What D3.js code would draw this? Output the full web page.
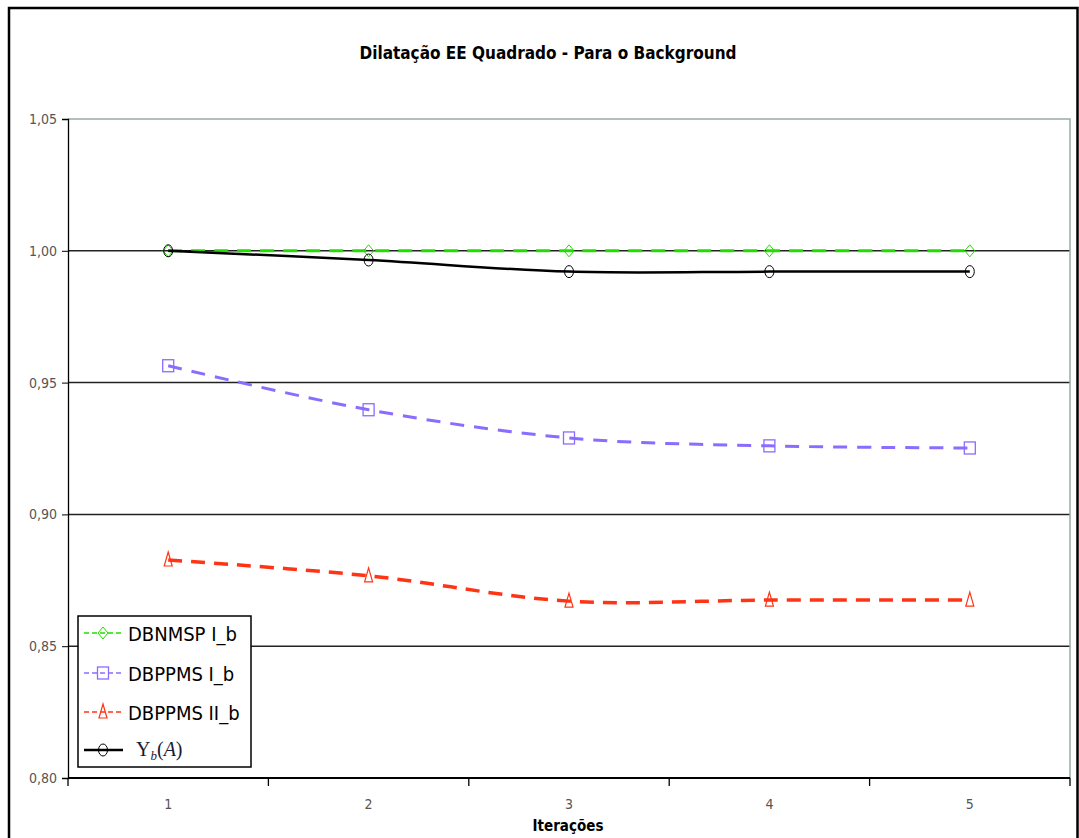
<!DOCTYPE html>
<html><head><meta charset="utf-8">
<script src="https://cdn.jsdelivr.net/npm/d3@7"></script>
<style>
html,body{margin:0;padding:0;background:#fff;}
svg{display:block;}
.narrow{font-family:"Liberation Sans Narrow","DejaVu Sans Condensed","Arial Narrow",sans-serif;font-stretch:condensed;}
</style></head>
<body>
<svg id="chart" width="1079" height="838"></svg>
<script>
const categories = ["1","2","3","4","5"];
const seriesNames = ["DBNMSP I_b","DBPPMS I_b","DBPPMS II_b","Υb(A)"];
const dbnmspIb   = [1.000, 1.000, 1.000, 1.000, 1.000];
const dbppmsIb   = [0.9564, 0.9397, 0.929, 0.926, 0.9252];
const dbppmsIIb  = [0.8827, 0.8767, 0.8671, 0.8675, 0.8675];
const upsilonB   = [1.000, 0.9965, 0.9921, 0.9921, 0.9921];
const yTicks = [0.80, 0.85, 0.90, 0.95, 1.00, 1.05];
const titleText = "Dilatação EE Quadrado - Para o Background";
const xTitle = "Iterações";

const svg = d3.select("#chart");
const L = 68, R = 1070, T = 119, B = 778;

// outer frame
svg.append("path").attr("d", `M9,840 V8 H1077.5 V840`).attr("fill","none").attr("stroke","#000").attr("stroke-width",2.5);

const x = d3.scaleBand().domain(categories).range([L, R]).padding(0);
const y = d3.scaleLinear().domain([0.80, 1.05]).range([B, T]);
const cx = c => x(c) + x.bandwidth()/2;

// title
svg.append("text").attr("class","narrow").attr("x", 548).attr("y", 59).attr("text-anchor","middle")
  .attr("font-size", 17).attr("font-weight","bold").attr("fill","#000").text(titleText);

// gridlines
const g = svg.append("g");
g.selectAll("line.grid").data(yTicks.filter(v => v > 0.801 && v < 1.049)).enter().append("line")
  .attr("x1", L).attr("x2", R).attr("y1", d => y(d)).attr("y2", d => y(d))
  .attr("stroke", "#222").attr("stroke-width", 1.5);
// top and right plot border
svg.append("path").attr("d", `M${L},${y(1.05)} H${R} V${B}`).attr("fill","none").attr("stroke","#9aaaa8").attr("stroke-width",1.5);

// y axis
const yAxis = d3.axisLeft(y).tickValues(yTicks).tickSize(6).tickPadding(5)
  .tickFormat(d => d3.format(".2f")(d).replace(".", ","));
const ya = svg.append("g").attr("transform", `translate(${L},0)`).call(yAxis);
ya.select(".domain").attr("stroke","#000").attr("stroke-width",1.3);
ya.selectAll(".tick line").attr("stroke","#000");
ya.selectAll("text").attr("class","narrow").attr("font-size",14).attr("fill","#555");

// x axis
const xa = svg.append("g").attr("transform", `translate(0,${B})`);
xa.append("line").attr("x1", L).attr("x2", R).attr("stroke","#000").attr("stroke-width",2);
const edges = categories.map(c => x(c)).concat([x(categories[categories.length-1]) + x.bandwidth()]);
xa.selectAll("line.tk").data(edges).enter().append("line")
  .attr("x1", d => d).attr("x2", d => d).attr("y1", 0).attr("y2", 8).attr("stroke","#000").attr("stroke-width",1.3);
xa.selectAll("text.tl").data(categories).enter().append("text").attr("class","narrow")
  .attr("x", d => cx(d)).attr("y", 31).attr("text-anchor","middle").attr("font-size",14).attr("fill","#555").text(d => d);
svg.append("text").attr("class","narrow").attr("x", 568).attr("y", 831).attr("text-anchor","middle")
  .attr("font-size",15).attr("font-weight","bold").attr("fill","#000").text(xTitle);

const series = [
  {name: seriesNames[0], values: dbnmspIb, color:"#22dd00", dash:"14,9", width:3, marker:"diamond"},
  {name: seriesNames[1], values: dbppmsIb, color:"#8a6cff", dash:"14,10", width:3, marker:"square"},
  {name: seriesNames[2], values: dbppmsIIb, color:"#ff3414", dash:"14,9", width:3.5, marker:"triangle"},
  {name: seriesNames[3], values: upsilonB, color:"#000000", dash:null, width:2.5, marker:"circle"}
];

const line = d3.line().x((d,i) => cx(categories[i])).y(d => y(d)).curve(d3.curveCatmullRom.alpha(0.5));

function drawMarker(sel, type, color, px, py) {
  if (type === "diamond") {
    sel.append("path").attr("d", `M${px},${py-6} L${px+5},${py} L${px},${py+6} L${px-5},${py} Z`)
      .attr("fill","none").attr("stroke",color).attr("stroke-width",1);
  } else if (type === "square") {
    sel.append("rect").attr("x", px-5.5).attr("y", py-6).attr("width", 11).attr("height", 12)
      .attr("fill","none").attr("stroke",color).attr("stroke-width",1.3);
  } else if (type === "triangle") {
    sel.append("path").attr("d", `M${px},${py-8} L${px+4},${py+6} L${px-4},${py+6} Z`)
      .attr("fill","none").attr("stroke",color).attr("stroke-width",1.2);
  } else {
    sel.append("ellipse").attr("cx", px).attr("cy", py).attr("rx", 4.5).attr("ry", 6)
      .attr("fill","none").attr("stroke",color).attr("stroke-width",1);
  }
}

series.forEach(s => {
  const gs = svg.append("g");
  gs.append("path").datum(s.values).attr("d", line).attr("fill","none")
    .attr("stroke", s.color).attr("stroke-width", s.width)
    .attr("stroke-dasharray", s.dash);
  s.values.forEach((v,i) => drawMarker(gs, s.marker, s.color, cx(categories[i]), y(v)));
});

// legend
const lg = svg.append("g");
lg.append("rect").attr("x", 78).attr("y", 616).attr("width", 173).attr("height", 151)
  .attr("fill","#fff").attr("stroke","#000").attr("stroke-width",1.5);
const ly = [633, 673, 712, 750];
series.forEach((s,i) => {
  lg.append("line").attr("x1", 84).attr("x2", 123).attr("y1", ly[i]).attr("y2", ly[i])
    .attr("stroke", s.color).attr("stroke-width", s.dash ? 1.5 : 2.5).attr("stroke-dasharray", s.dash ? "5,3" : null);
  drawMarker(lg, s.marker, s.color, 103, ly[i]);
  if (i < 3) {
    lg.append("text").attr("class","narrow").attr("x", 128).attr("y", ly[i] + 8)
      .attr("font-size", 20).attr("fill","#000").text(s.name);
  } else {
    const t = lg.append("text").attr("x", 136).attr("y", ly[i] + 6)
      .attr("font-family","'Liberation Serif','DejaVu Serif',serif").attr("font-size", 20).attr("fill","#1a1a33");
    t.append("tspan").text("Υ");
    t.append("tspan").attr("font-style","italic").attr("font-size", 13).attr("dy", 4).text("b");
    t.append("tspan").attr("dy", -4).text("(");
    t.append("tspan").attr("font-style","italic").text("A");
    t.append("tspan").text(")");
  }
});
</script>
</body></html>
